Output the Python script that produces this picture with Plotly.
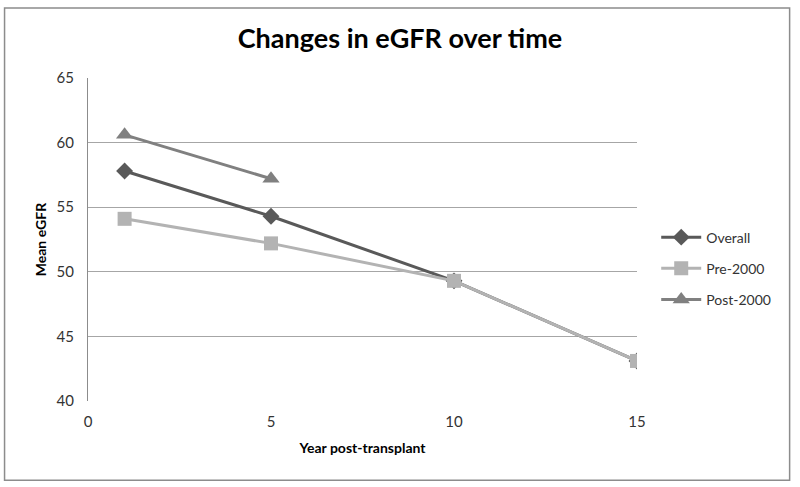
import plotly.graph_objects as go


years = [1, 5, 10, 15]
overall = [57.8, 54.3, 49.3, 43.1]
pre_2000 = [54.1, 52.2, 49.3, 43.1]
post_years = [1, 5]
post_2000 = [60.6, 57.2]

FONT = "Lato, 'Open Sans', sans-serif"


fig = go.Figure()

fig.add_trace(
    go.Scatter(
        x=years,
        y=overall,
        mode="lines+markers",
        name="Overall",
        legendgroup="overall",
        line=dict(color="#595959", width=3),
        marker=dict(symbol="diamond", size=13, color="#595959"),
    )
)

fig.add_trace(
    go.Scatter(
        x=years,
        y=pre_2000,
        mode="lines+markers",
        name="Pre-2000",
        legendgroup="pre",
        line=dict(color="#b3b3b3", width=3),
        marker=dict(symbol="square", size=14, color="#b3b3b3"),
    )
)

fig.add_trace(
    go.Scatter(
        x=post_years,
        y=post_2000,
        mode="lines+markers",
        name="Post-2000",
        legendgroup="post",
        line=dict(color="#808080", width=3),
        marker=dict(symbol="triangle-up", size=15, color="#808080"),
    )
)


# outer chart border
fig.add_shape(
    type="rect",
    xref="paper",
    yref="paper",
    x0=-0.152,
    x1=1.278,
    y0=-0.245,
    y1=1.217,
    line=dict(color="#8c8c8c", width=1.5),
    layer="below",
)


fig.update_layout(
    width=800,
    height=487,
    margin=dict(l=88, r=163, t=78, b=86),
    paper_bgcolor="white",
    plot_bgcolor="white",
    font=dict(family=FONT, size=14, color="#333333"),
    title=dict(
        text="<b>Changes in eGFR over time</b>",
        x=0.5,
        xanchor="center",
        y=0.92,
        yanchor="middle",
        font=dict(family=FONT, size=27, color="black"),
    ),
    xaxis=dict(
        range=[0, 15],
        tickvals=[0, 5, 10, 15],
        showgrid=False,
        zeroline=False,
        showline=False,
        ticks="",
        ticklabelstandoff=10,
        tickfont=dict(size=15, color="#333333"),
        title=dict(
            text="<b>Year post-transplant</b>",
            font=dict(size=14, color="black"),
            standoff=14,
        ),
    ),
    yaxis=dict(
        range=[40, 65],
        tickvals=[40, 45, 50, 55, 60, 65],
        showgrid=True,
        gridcolor="#a6a6a6",
        gridwidth=1,
        zeroline=False,
        showline=True,
        linecolor="#8c8c8c",
        ticks="",
        ticklabelstandoff=10,
        tickfont=dict(size=15, color="#333333"),
        title=dict(
            text="<b>Mean eGFR</b>",
            font=dict(size=14, color="black"),
            standoff=6,
        ),
    ),
    legend=dict(
        x=1.035,
        y=0.41,
        xanchor="left",
        yanchor="middle",
        font=dict(size=14, color="#333333"),
        tracegroupgap=10,
        itemwidth=40,
        bgcolor="rgba(0,0,0,0)",
    ),
)


fig.write_html(
    "out.html",
    config={"displayModeBar": False},
    post_script="document.body.style.margin='0';",
)
